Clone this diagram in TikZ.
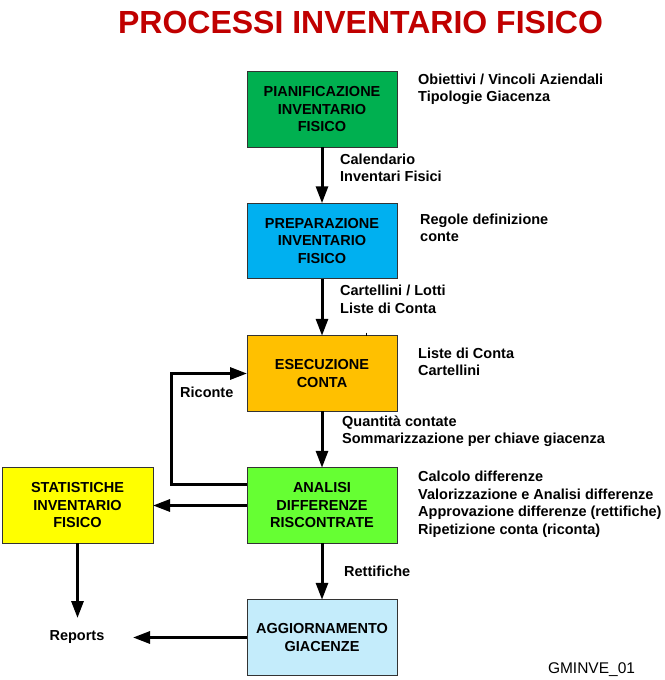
\documentclass[tikz,border=0pt]{standalone}
\usepackage{fontspec}
\setmainfont{Liberation Sans}
\usetikzlibrary{arrows.meta}
\definecolor{gA}{HTML}{00B050}
\definecolor{bA}{HTML}{00B0F0}
\definecolor{oA}{HTML}{FFC000}
\definecolor{yA}{HTML}{FFFF00}
\definecolor{gB}{HTML}{66FF33}
\definecolor{bB}{HTML}{C4ECFB}
\definecolor{tred}{HTML}{C00000}
\definecolor{bord}{HTML}{333333}
\tikzset{
  procbox/.style={draw=bord, line width=0.8pt, minimum width=150pt, minimum height=75.5pt,
    inner sep=0pt, outer sep=0pt, align=center, font=\fontsize{14.5}{17.5}\selectfont\bfseries},
  lbl/.style={anchor=west, inner sep=0pt, align=left, font=\fontsize{14.5}{17.5}\selectfont\bfseries},
  arr/.style={line width=3pt, -{Triangle[length=17pt,width=12pt]}},
  plain/.style={line width=3pt}
}
\begin{document}
\begin{tikzpicture}[x=1pt,y=-1pt]
\useasboundingbox (0,0) rectangle (664,680);
% title
\node[text=tred, font=\fontsize{32}{38}\selectfont\bfseries, inner sep=0pt] (title) at (360.5,22.5) {PROCESSI INVENTARIO FISICO};
% boxes
\node[procbox, fill=gA] (pian) at (322,109.5) {PIANIFICAZIONE\\INVENTARIO\\FISICO};
\node[procbox, fill=bA] (prep) at (322,241) {PREPARAZIONE\\INVENTARIO\\FISICO};
\node[procbox, fill=oA] (ese) at (322,373.5) {ESECUZIONE\\CONTA};
\node[procbox, fill=gB] (ana) at (322,505.5) {ANALISI\\DIFFERENZE\\RISCONTRATE};
\node[procbox, fill=yA, minimum width=151pt] (stat) at (77.5,505.5) {STATISTICHE\\INVENTARIO\\FISICO};
\node[procbox, fill=bB] (agg) at (322,637.5) {AGGIORNAMENTO\\GIACENZE};
% labels
\node[lbl] (l1) at (418,89.5) {Obiettivi / Vincoli Aziendali\\Tipologie Giacenza};
\node[lbl] (l2) at (340,168) {Calendario\\Inventari Fisici};
\node[lbl] (l3) at (420,228) {Regole definizione\\conte};
\node[lbl] (l4) at (340,299.5) {Cartellini / Lotti\\Liste di Conta};
\node[lbl] (l5) at (418,362) {Liste di Conta\\Cartellini};
\node[lbl] (l6) at (180,392) {Riconte};
\node[lbl] (l7) at (342,431) {Quantità contate\\Sommarizzazione per chiave giacenza};
\node[lbl] (l8) at (418,504) {Calcolo differenze\\Valorizzazione e Analisi differenze\\Approvazione differenze (rettifiche)\\Ripetizione conta (riconta)};
\node[lbl] (l9) at (344,571) {Rettifiche};
\node[lbl, anchor=center] (rep) at (77,637) {Reports};
\node[inner sep=0pt, font=\fontsize{15.5}{18}\selectfont] (code) at (591.5,670) {GMINVE\_01};
% connectors
\draw[arr] (pian.south) -- (prep.north);
\draw[arr] (prep.south) -- (ese.north);
\draw[arr] (ese.south) -- (ana.north);
\draw[arr] (ana.south) -- (agg.north);
\draw[arr] (ana.west) -- (stat.east);
\coordinate (lp) at (171.5,484);
\draw[arr] ([yshift=21.5pt]ana.west) -- (lp) |- (ese.west);
\coordinate (reptop) at (77.5,618);
\draw[arr] (stat.south) -- (reptop);
\coordinate (reptip) at (133,637.5);
\draw[arr] (agg.west) -- (reptip);
% small tick
\coordinate (tk) at (366,332.5);
\draw[line width=0.8pt] (tk) -- (tk |- ese.north);
\end{tikzpicture}
\end{document}
